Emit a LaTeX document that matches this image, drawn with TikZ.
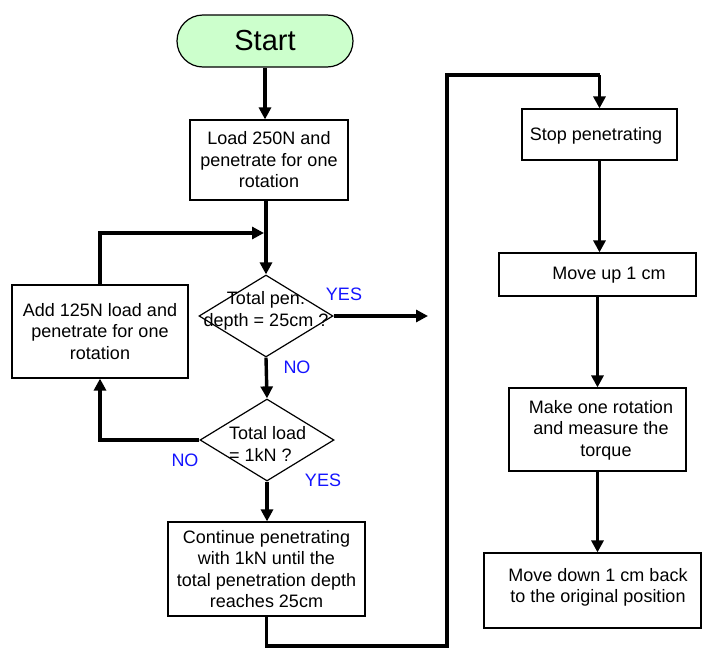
\documentclass[tikz,border=0pt]{standalone}
\usepackage{fontspec}
\setmainfont{Liberation Sans}
\usetikzlibrary{arrows.meta,shapes.geometric}
\definecolor{startgreen}{RGB}{204,255,204}
\definecolor{lblblue}{RGB}{20,20,255}
\begin{document}
\begin{tikzpicture}[x=1pt,y=-1pt,
  txt/.style={font=\fontsize{18}{21.5}\selectfont, align=center, inner sep=0pt},
  box/.style={draw, line width=1.2pt, rectangle, inner sep=0pt, align=center, font=\fontsize{18}{21.5}\selectfont},
  dia/.style={draw, line width=1.2pt, diamond, inner sep=0pt},
  conn/.style={line width=3.4pt},
  arr/.style={conn, -{Triangle[length=12pt,width=12pt]}},
  lbl/.style={font=\fontsize{18}{21.5}\selectfont, text=lblblue, inner sep=0pt}
]
\useasboundingbox (0,0) rectangle (702,648);

\node[draw, line width=1.2pt, fill=startgreen, rectangle, rounded corners=26pt,
  minimum width=176pt, minimum height=52pt, inner sep=0pt,
  font=\fontsize{29}{34}\selectfont] (start) at (265,41) {Start};

\node[box, minimum width=158pt, minimum height=80pt] (load) at (269,160)
  {Load 250N and\\penetrate for one\\rotation};

\node[dia, minimum width=134pt, minimum height=82pt] (d1) at (266,316) {};
\node[txt] (d1t) at (266,311) {Total pen.\\depth = 25cm ?};

\node[box, minimum width=176pt, minimum height=93pt] (add) at (100,331.5)
  {Add 125N load and\\penetrate for one\\rotation};

\node[dia, minimum width=134pt, minimum height=82pt] (d2) at (267,440) {};
\node[txt, align=left, anchor=west] (d2t) at (229,444) {Total load\\= 1kN ?};

\node[box, minimum width=197pt, minimum height=94pt] (cont) at (266.5,569)
  {Continue penetrating\\with 1kN until the\\total penetration depth\\reaches 25cm};

\node[box, minimum width=155pt, minimum height=51pt] (stop) at (599.5,134.5) {};
\node[txt] (stopt) at (596,136) {Stop penetrating};

\node[box, minimum width=197pt, minimum height=43pt] (up) at (597.5,274.5) {};
\node[txt] (upt) at (609,275) {Move up 1 cm};

\node[box, minimum width=177pt, minimum height=83pt] (rot) at (597.5,429.5) {};
\node[txt] (rott) at (601,430) {Make one rotation\\and measure the\\\hspace*{10pt}torque};

\node[box, minimum width=217pt, minimum height=75pt] (down) at (592.5,590.5) {};
\node[txt] (downt) at (598,587.5) {Move down 1 cm back\\to the original position};

% labels
\node[lbl] (yes1) at (344,294) {YES};
\node[lbl] (no1) at (297,367) {NO};
\node[lbl] (no2) at (185,460) {NO};
\node[lbl] (yes2) at (323,480) {YES};

% coordinates
\coordinate (j1) at (264,233);
\coordinate (yesend) at (428,316);
\coordinate (b1) at (266.5,646);
\coordinate (b2) at (447,646);
\coordinate (b3) at (447,75);
\coordinate (b4) at (599.5,75);

% connectors
\draw[arr] (start.south) -- (start.south |- load.north);
\draw[arr] (load.south -| d1.north) -- (d1.north);
\draw[arr] (add.north) |- (j1);
\draw[arr] (d1.east) -- (yesend);
\draw[arr] (d1.south) -- (d2.north);
\draw[arr] (d2.west) -| (add.south);
\draw[arr] (d2.south) -- (d2.south |- cont.north);
\draw[conn] (cont.south) -- (b1) -- (b2) -- (b3) -- (b4);
\draw[arr] (b4) -- (stop.north);
\draw[arr] (stop.south) -- (stop.south |- up.north);
\draw[arr] (up.south) -- (up.south |- rot.north);
\draw[arr] (rot.south) -- (rot.south |- down.north);
\end{tikzpicture}
\end{document}
